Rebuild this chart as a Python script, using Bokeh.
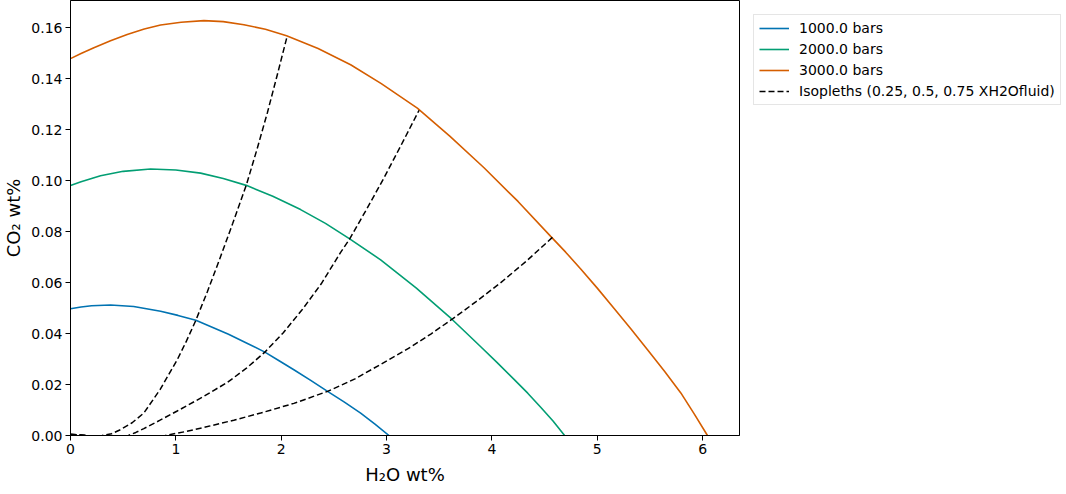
from bokeh.plotting import figure
from bokeh.models import FixedTicker, NumeralTickFormatter, Range1d, Legend, LegendItem
from bokeh.embed import file_html
from bokeh.resources import INLINE

# saturation curves (H2O wt%, CO2 wt%)
p1000_h2o = [0, 0.1, 0.2, 0.38, 0.6, 0.855, 1.02, 1.19, 1.5, 1.67, 1.845, 1.98, 2.12, 2.28,
             2.44, 2.6, 2.754, 2.89, 3.023]
p1000_co2 = [0.0497, 0.0504, 0.0509, 0.0512, 0.0506, 0.0487, 0.0471, 0.0452, 0.0397, 0.0363,
             0.0327, 0.0293, 0.0258, 0.0216, 0.0173, 0.0131, 0.0088, 0.0045, 0.0]

p2000_h2o = [0, 0.1, 0.285, 0.5, 0.76, 1.0, 1.235, 1.45, 1.668, 1.92, 2.184, 2.42, 2.65, 2.944,
             3.28, 3.615, 3.75, 3.894, 4.05, 4.21, 4.34, 4.463, 4.58, 4.69]
p2000_co2 = [0.098, 0.0995, 0.1019, 0.1036, 0.1045, 0.1041, 0.1029, 0.1008, 0.0981, 0.0938,
             0.0886, 0.0832, 0.0771, 0.0689, 0.0579, 0.0458, 0.0405, 0.0348, 0.0286, 0.0220,
             0.0166, 0.0111, 0.0057, 0.0]

p3000_h2o = [0, 0.1, 0.222, 0.38, 0.538, 0.7, 0.855, 1.05, 1.266, 1.45, 1.646, 1.85, 2.051,
             2.35, 2.659, 2.95, 3.292, 3.6, 3.925, 4.25, 4.558, 4.7, 4.843, 5.0, 5.16, 5.32,
             5.477, 5.64, 5.793, 5.92, 6.046]
p3000_co2 = [0.1478, 0.1498, 0.1521, 0.1548, 0.1573, 0.1594, 0.1610, 0.1621, 0.1627, 0.1623,
             0.1611, 0.1593, 0.1568, 0.1518, 0.1454, 0.1380, 0.1284, 0.1174, 0.1050, 0.0917,
             0.0781, 0.0719, 0.0653, 0.0578, 0.0498, 0.0418, 0.0336, 0.0251, 0.0167, 0.0085, 0.0]

# isopleths (0.25, 0.5, 0.75 XH2O fluid)
iso25_h2o = [0, 0.1, 0.2, 0.3, 0.39, 0.475, 0.585, 0.696, 0.85, 1.013, 1.1, 1.19, 1.3, 1.408,
             1.54, 1.668, 1.77, 1.868, 1.96, 2.054]
iso25_co2 = [0.0005, 0.0002, -0.0003, 0.0, 0.0007, 0.0023, 0.0050, 0.0088, 0.0180, 0.0297,
             0.0370, 0.0452, 0.0565, 0.0683, 0.0832, 0.0981, 0.1122, 0.1265, 0.1410, 0.1562]

iso50_h2o = [0, 0.15, 0.35, 0.55, 0.62, 0.696, 0.85, 1.013, 1.25, 1.488, 1.67, 1.845, 2.02,
             2.2, 2.38, 2.564, 2.65, 2.81, 2.975, 3.14, 3.308]
iso50_co2 = [0.0004, 0.0, -0.0008, 0.0, 0.0012, 0.0027, 0.0060, 0.0096, 0.0150, 0.0208,
             0.0264, 0.0327, 0.0403, 0.0494, 0.0595, 0.0718, 0.0771, 0.0887, 0.101, 0.1140, 0.1275]

iso75_h2o = [0, 0.3, 0.6, 0.9, 1.1, 1.3, 1.55, 1.805, 2.12, 2.44, 2.7, 2.94, 3.23, 3.42, 3.615,
             3.85, 4.08, 4.33, 4.574]
iso75_co2 = [0.0004, -0.0004, -0.0006, 0.0, 0.0016, 0.0035, 0.0060, 0.0088, 0.0126, 0.0173,
             0.0222, 0.0278, 0.0347, 0.0398, 0.0454, 0.0525, 0.0598, 0.0685, 0.0777]

series_labels = ["1000.0 bars", "2000.0 bars", "3000.0 bars"]
iso_label = "Isopleths (0.25, 0.5, 0.75 XH2Ofluid)"
x_ticks = [0, 1, 2, 3, 4, 5, 6]
y_ticks = [0.0, 0.02, 0.04, 0.06, 0.08, 0.10, 0.12, 0.14, 0.16]

colors = ["#0173b2", "#029e73", "#d55e00"]
font = "DejaVu Sans"

p = figure(
    frame_width=669,
    frame_height=435,
    x_range=Range1d(0, 6.35),
    y_range=Range1d(0, 0.1706),
    output_backend="svg",
    toolbar_location=None,
    min_border_left=60,
    min_border_top=0,
    min_border_right=0,
    min_border_bottom=0,
)
p.background_fill_color = "white"
p.border_fill_color = "white"
p.outline_line_color = "black"
p.outline_line_width = 1
p.xgrid.visible = False
p.ygrid.visible = False

curves = [(p1000_h2o, p1000_co2), (p2000_h2o, p2000_co2), (p3000_h2o, p3000_co2)]
items = []
for (xs, ys), c, lab in zip(curves, colors, series_labels):
    r = p.line(xs, ys, line_color=c, line_width=1.6)
    items.append(LegendItem(label=lab, renderers=[r]))

iso = p.multi_line(
    xs=[iso25_h2o, iso50_h2o, iso75_h2o],
    ys=[iso25_co2, iso50_co2, iso75_co2],
    line_color="black", line_width=1.5, line_dash="6 3",
)
items.append(LegendItem(label=iso_label, renderers=[iso]))

legend = Legend(items=items, location="top_left")
legend.label_text_font = font
legend.label_text_font_size = "14px"
legend.label_text_color = "black"
legend.border_line_color = "#cccccc"
legend.border_line_width = 1
legend.background_fill_color = "white"
legend.glyph_width = 30
legend.glyph_height = 16
legend.spacing = 5
legend.padding = 5
legend.margin = 14
legend.label_standoff = 10
p.add_layout(legend, "right")

p.xaxis.ticker = FixedTicker(ticks=x_ticks)
p.yaxis.ticker = FixedTicker(ticks=y_ticks)
p.yaxis.formatter = NumeralTickFormatter(format="0.00")
p.xaxis.axis_label = "H₂O wt%"
p.yaxis.axis_label = "CO₂ wt%"

for ax in (p.xaxis, p.yaxis):
    ax.axis_label_text_font = font
    ax.axis_label_text_font_size = "18px"
    ax.axis_label_text_font_style = "normal"
    ax.axis_label_text_color = "black"
    ax.major_label_text_font = font
    ax.major_label_text_font_size = "14px"
    ax.major_label_text_color = "black"
    ax.major_tick_out = 5
    ax.major_tick_in = 0
    ax.minor_tick_out = 0
    ax.minor_tick_in = 0
    ax.axis_line_color = "black"
    ax.major_tick_line_color = "black"
    ax.major_label_standoff = 3
p.xaxis.axis_label_standoff = 7
p.yaxis.axis_label_standoff = 4

open("out.html", "w").write(file_html(p, INLINE))
